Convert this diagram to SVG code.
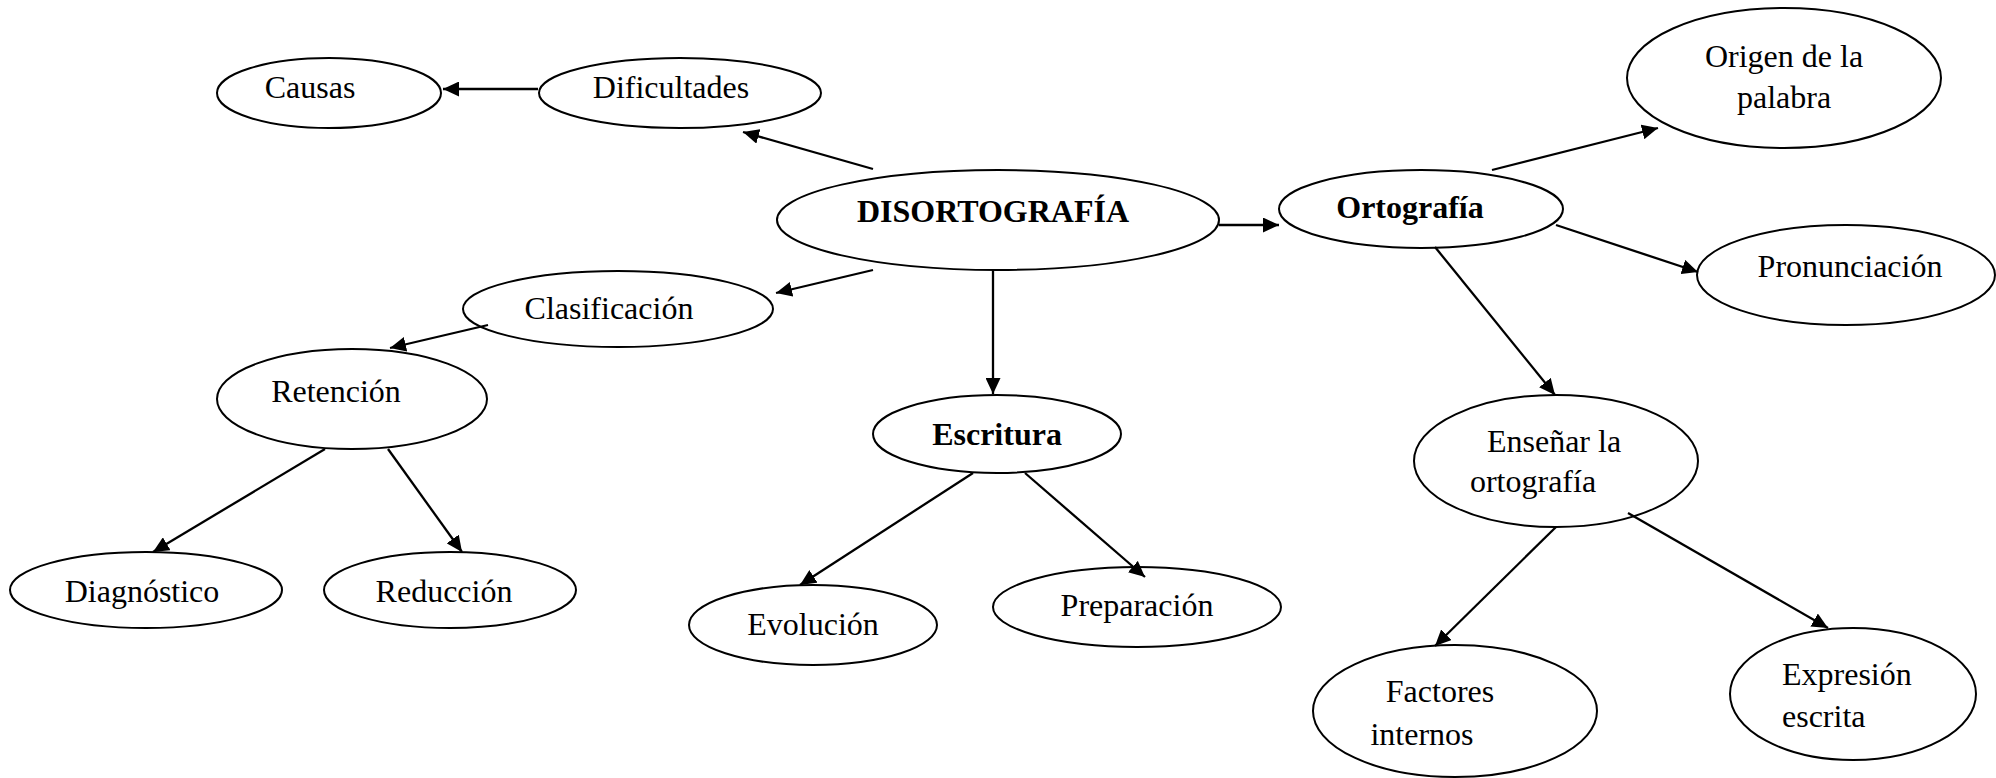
<svg xmlns="http://www.w3.org/2000/svg" width="1996" height="778" viewBox="0 0 1996 778">
<style>
.n ellipse{fill:#fff;stroke:#000;stroke-width:2}
.n text{font-family:"Liberation Serif","Times New Roman",serif;font-size:32px;fill:#000;text-anchor:middle}
.n text.b{font-weight:bold}
.n text.s{text-anchor:start}
#edges line{stroke:#000;stroke-width:2.3;marker-end:url(#ah)}
</style>
<defs>
<marker id="ah" markerUnits="userSpaceOnUse" markerWidth="16" markerHeight="15" refX="16" refY="7.5" orient="auto" viewBox="0 0 16 15">
<path d="M0,0 L16,7.5 L0,15 z" fill="#000"/>
</marker>
</defs>
<rect width="1996" height="778" fill="#fff"/>
<g class="n">
<g id="causas"><ellipse cx="329" cy="93" rx="112" ry="35"/><text x="310" y="98">Causas</text></g>
<g id="dificultades"><ellipse cx="680" cy="93" rx="141" ry="35"/><text x="671" y="98">Dificultades</text></g>
<g id="disortografia"><ellipse cx="998" cy="220" rx="221" ry="50"/><text class="b" x="993" y="222">DISORTOGRAFÍA</text></g>
<g id="ortografia"><ellipse cx="1421" cy="209" rx="142" ry="39"/><text class="b" x="1410" y="218">Ortografía</text></g>
<g id="origen"><ellipse cx="1784" cy="78" rx="157" ry="70"/><text x="1784" y="67">Origen de la</text><text x="1784" y="108">palabra</text></g>
<g id="pronunciacion"><ellipse cx="1846" cy="275" rx="149" ry="50"/><text x="1850" y="277">Pronunciación</text></g>
<g id="clasificacion"><ellipse cx="618" cy="309" rx="155" ry="38"/><text x="609" y="319">Clasificación</text></g>
<g id="retencion"><ellipse cx="352" cy="399" rx="135" ry="50"/><text x="336" y="402">Retención</text></g>
<g id="escritura"><ellipse cx="997" cy="434" rx="124" ry="39"/><text class="b" x="997" y="445">Escritura</text></g>
<g id="ensenar"><ellipse cx="1556" cy="461" rx="142" ry="66"/><text x="1554" y="452">Enseñar la</text><text x="1533" y="492">ortografía</text></g>
<g id="diagnostico"><ellipse cx="146" cy="590" rx="136" ry="38"/><text x="142" y="602">Diagnóstico</text></g>
<g id="reduccion"><ellipse cx="450" cy="590" rx="126" ry="38"/><text x="444" y="602">Reducción</text></g>
<g id="evolucion"><ellipse cx="813" cy="625" rx="124" ry="40"/><text x="813" y="635">Evolución</text></g>
<g id="preparacion"><ellipse cx="1137" cy="607" rx="144" ry="40"/><text x="1137" y="616">Preparación</text></g>
<g id="factores"><ellipse cx="1455" cy="711" rx="142" ry="66"/><text x="1440" y="702">Factores</text><text x="1422" y="745">internos</text></g>
<g id="expresion"><ellipse cx="1853" cy="694" rx="123" ry="66"/><text class="s" x="1782" y="685">Expresión</text><text class="s" x="1782" y="727">escrita</text></g>
</g>
<g id="edges">
<line x1="538" y1="89" x2="443" y2="89"/>
<line x1="873" y1="169" x2="743" y2="132"/>
<line x1="1219" y1="225" x2="1279" y2="225"/>
<line x1="873" y1="270" x2="776" y2="293"/>
<line x1="993" y1="270" x2="993" y2="394"/>
<line x1="488" y1="325" x2="390" y2="348"/>
<line x1="325" y1="449" x2="153" y2="552"/>
<line x1="388" y1="449" x2="462" y2="552"/>
<line x1="973" y1="473" x2="800" y2="585"/>
<line x1="1025" y1="473" x2="1145" y2="577"/>
<line x1="1492" y1="170" x2="1658" y2="128"/>
<line x1="1556" y1="225" x2="1698" y2="272"/>
<line x1="1435" y1="247" x2="1555" y2="395"/>
<line x1="1556" y1="527" x2="1435" y2="646"/>
<line x1="1628" y1="513" x2="1828" y2="628"/>
</g>
</svg>
